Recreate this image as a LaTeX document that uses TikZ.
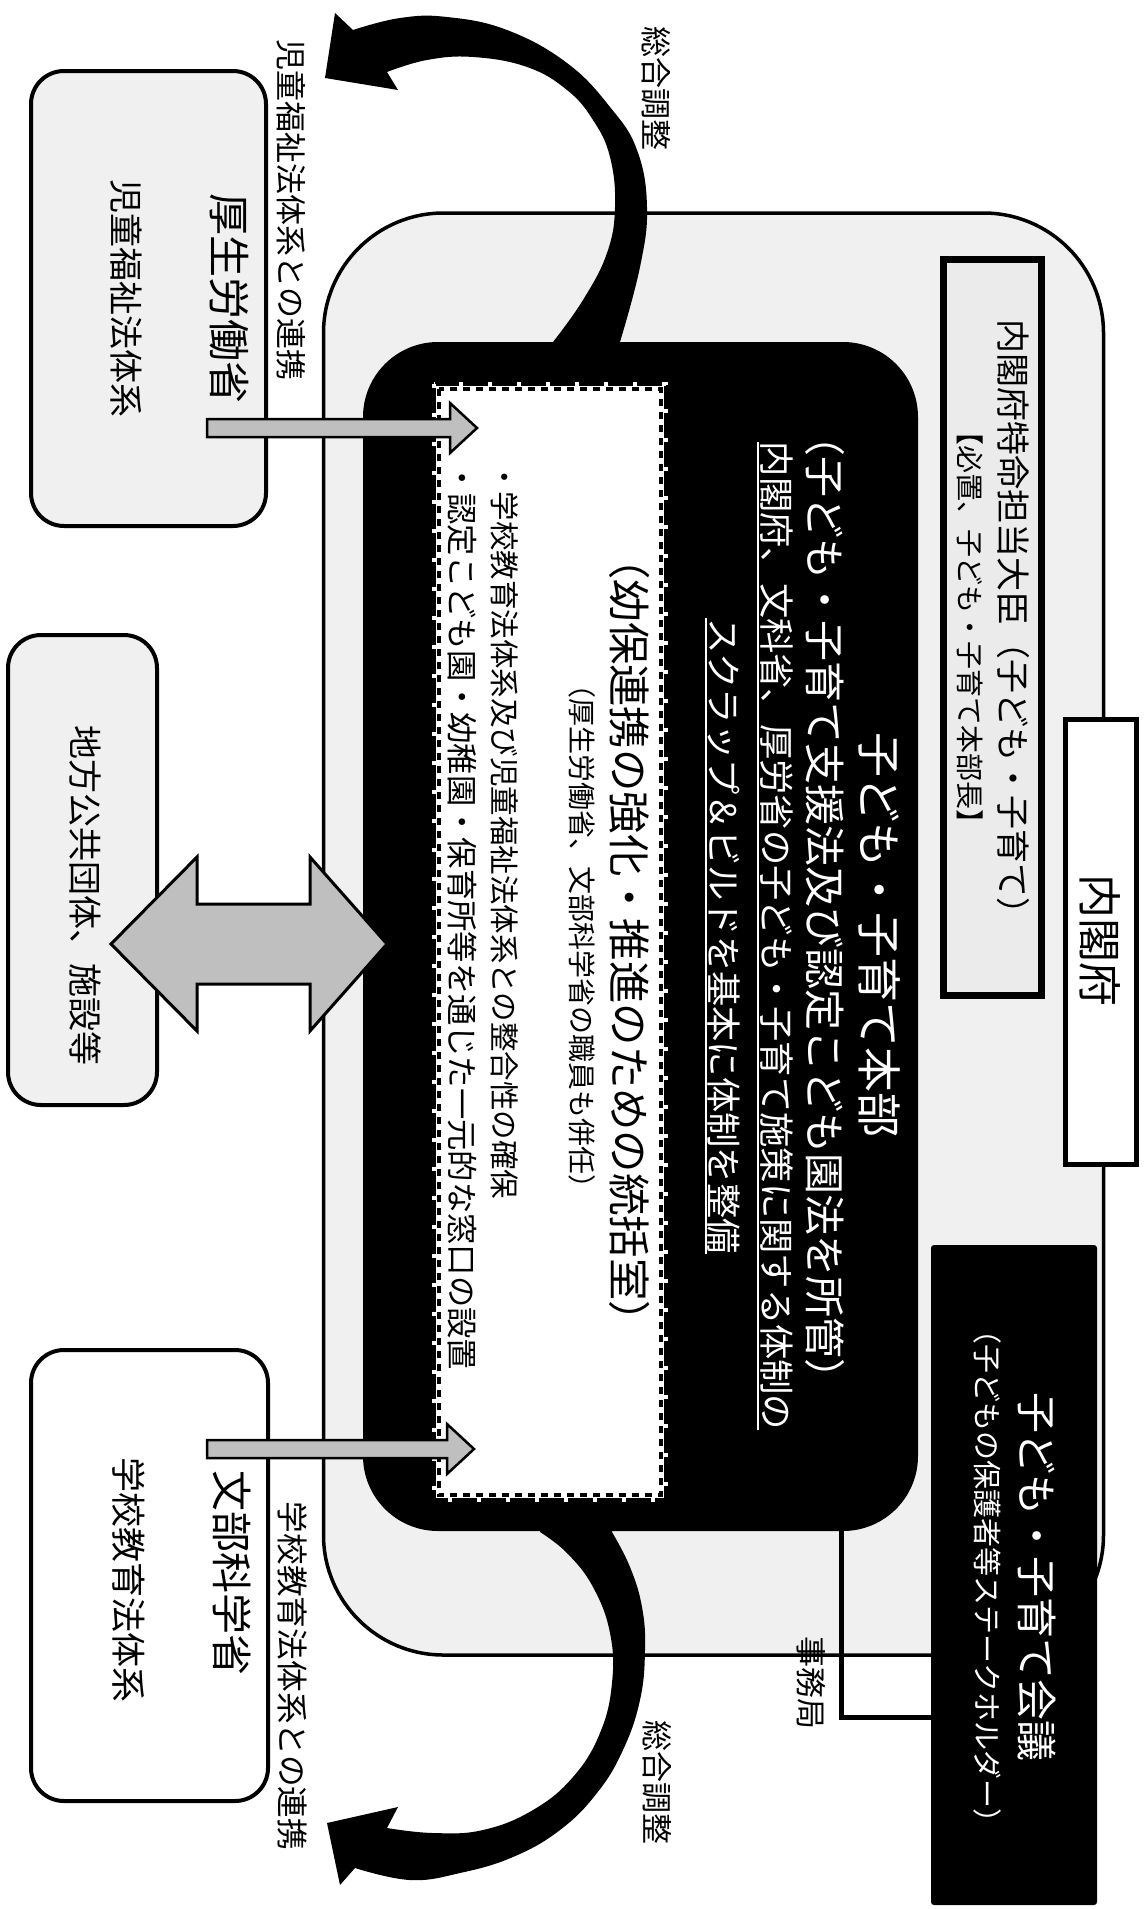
\documentclass[tikz,border=0pt]{standalone}
\usepackage{fontspec}
\newfontfamily\cjk{Noto Sans CJK JP}
\usetikzlibrary{calc}
\newcommand\myfs[1]{\fontsize{#1}{#1}\selectfont}
\begin{document}
\begin{tikzpicture}[x=1pt,y=-1pt,
  tx/.style={rotate=-90, inner sep=0pt, font=\cjk\myfs{#1}},
  mbox/.style={draw, line width=4pt, rounded corners=33pt, inner sep=0pt},
  stip/.style={fill=black!6},
  grayarr/.style={draw, line width=2.5pt, fill=black!25, line join=miter},
  curvearr/.style={fill=black}]
\fill[white] (0,0) rectangle (1147,1909);
\useasboundingbox (0,0) rectangle (1147,1909);

% outer Cabinet Office frame
\node[draw, line width=3.5pt, rounded corners=120pt, stip, minimum width=780pt, minimum height=1442pt, inner sep=0pt] (naikaku) at (713.5,934) {};
% black headquarters box
\node[fill=black, rounded corners=75pt, minimum width=555pt, minimum height=1189pt, inner sep=0pt] (honbu) at (640.5,936.5) {};
% white dashed box
\node[fill=white, minimum width=228pt, minimum height=1112pt, inner sep=0pt] (tokatsu) at (550,942) {};
\draw[line width=3.5pt, dash pattern=on 7pt off 6pt] ([shift={(3pt,-3pt)}]tokatsu.north west) rectangle ([shift={(-3pt,3pt)}]tokatsu.south east);
\draw[white, line width=4pt, dash pattern=on 4pt off 25pt] ([shift={(-2pt,2pt)}]tokatsu.north west) rectangle ([shift={(2pt,-2pt)}]tokatsu.south east);

% curved arrows (overall coordination)
\fill[curvearr] (620,350) -- plot[smooth, tension=0.7] coordinates {(620,342) (640,267) (647,207) (637,150) (610,107) (567,63) (507,30) (447,17) (400,18) (353,30)}
  -- (335,13) -- (325,78) -- (398,90) -- (387,72)
  -- plot[smooth, tension=0.7] coordinates {(387,72) (427,60) (473,57) (527,67) (567,90) (593,120) (610,157) (615,207) (607,253) (583,300) (553,342)} -- (553,350) -- cycle;
\fill[curvearr] (612,1520) -- plot[smooth, tension=0.7] coordinates {(612,1532) (630,1567) (642,1607) (645,1650) (640,1700) (623,1750) (597,1793) (560,1830) (513,1857) (460,1873) (410,1880) (355,1868)}
  -- (340,1885) -- (327,1823) -- (398,1807) -- (387,1828)
  -- plot[smooth, tension=0.7] coordinates {(387,1828) (433,1833) (483,1830) (533,1810) (573,1777) (600,1733) (612,1683) (610,1633) (593,1587) (567,1553) (540,1532)} -- (540,1520) -- cycle;

% ministry boxes
\node[mbox, stip, minimum width=235pt, minimum height=455pt] (mhlw) at (148.5,298.5) {};
\node[mbox, stip, minimum width=149pt, minimum height=470pt] (local) at (82.5,870) {};
\node[mbox, fill=white, minimum width=237pt, minimum height=451pt] (mext) at (149.5,1575.5) {};

% gray arrows
\coordinate (gaS1) at (207,428); \coordinate (gaT1) at (477,428);
\coordinate (gaS2) at (207,1449); \coordinate (gaT2) at (474,1449);
\path[grayarr] let \p1=(gaS1), \p2=(gaT1) in (\x1,\y1+9pt) -- (\x2-27pt,\y1+9pt) -- (\x2-27pt,\y1+25pt) -- (\x2,\y1) -- (\x2-27pt,\y1-25pt) -- (\x2-27pt,\y1-9pt) -- (\x1,\y1-9pt) -- cycle;
\path[grayarr] let \p1=(gaS2), \p2=(gaT2) in (\x1,\y1+9pt) -- (\x2-27pt,\y1+9pt) -- (\x2-27pt,\y1+25pt) -- (\x2,\y1) -- (\x2-27pt,\y1-25pt) -- (\x2-27pt,\y1-9pt) -- (\x1,\y1-9pt) -- cycle;

% double arrow
\coordinate (daL) at (111,944); \coordinate (daR) at (387,944);
\path[grayarr, line width=3pt] let \p1=(daL), \p2=(daR) in (\x1,\y1) -- (\x1+86pt,\y1+87pt) -- (\x1+86pt,\y1+40pt) -- (\x2-77pt,\y1+40pt) -- (\x2-77pt,\y1+87pt) -- (\x2,\y1) -- (\x2-77pt,\y1-87pt) -- (\x2-77pt,\y1-40pt) -- (\x1+86pt,\y1-40pt) -- (\x1+86pt,\y1-87pt) -- cycle;

% council box and secretariat connector
\node[fill=black, rounded corners=3pt, minimum width=166pt, minimum height=660pt, inner sep=0pt] (kaigi) at (1014,1575) {};
\coordinate (jm) at (841,1525);
\draw[line width=5pt] (jm) |- (kaigi.west |- 0,1717);

% minister box
\node[draw, line width=7pt, fill=black!8, minimum width=98pt, minimum height=736pt, inner sep=0pt] (daijin) at (992.5,627.5) {};
% Cabinet Office label
\node[draw, line width=5pt, fill=white, minimum width=71pt, minimum height=445pt, inner sep=0pt] (naikakuL) at (1101,942) {};

% texts
\node[tx=31] (t1) at (291,210) {児童福祉法体系との連携};
\node[tx=31] (t2) at (656,88) {総合調整};
\node[tx=42] (t3) at (229,298) {厚生労働省};
\node[tx=34] (t4) at (126,298) {児童福祉法体系};
\node[tx=34] (t5) at (1013,625) {内閣府特命担当大臣（子ども・子育て）};
\node[tx=28] (t6) at (970,627) {【必置、子ども・子育て本部長】};
\node[tx=44] (t7) at (1100,940) {内閣府};
\node[tx=45, text=white] (t8) at (880,935) {子ども・子育て本部};
\node[tx=41, text=white] (t9) at (825,907) {（子ども・子育て支援法及び認定こども園法を所管）};
\node[tx=35.3, text=white] (ul1) at (777,936) {内閣府、文科省、厚労省の子ども・子育て施策に関する体制の};
\node[tx=35.3, text=white] (ul2) at (724,936) {スクラップ＆ビルドを基本に体制を整備};
\draw[white, line width=2pt] ([xshift=-2pt]ul1.south west) -- ([xshift=-2pt]ul1.south east);
\draw[white, line width=2pt] ([xshift=-2pt]ul2.south west) -- ([xshift=-2pt]ul2.south east);
\node[tx=42.4] (t10) at (630,940) {（幼保連携の強化・推進のための統括室）};
\node[tx=28] (t11) at (582,936) {（厚生労働省、文部科学省の職員も併任）};
\node[tx=29.5, anchor=west] (t12) at (505,462) {・学校教育法体系及び児童福祉法体系との整合性の確保};
\node[tx=31.3, anchor=west] (t13) at (462,462) {・認定こども園・幼稚園・保育所等を通じた一元的な窓口の設置};
\node[tx=34] (t14) at (85,895) {地方公共団体、施設等};
\node[tx=41] (t15) at (232,1573) {文部科学省};
\node[tx=35] (t16) at (129,1580) {学校教育法体系};
\node[tx=31.7] (t17) at (293,1676) {学校教育法体系との連携};
\node[tx=31] (t18) at (657,1782) {総合調整};
\node[tx=31] (t19) at (811,1683) {事務局};
\node[tx=41, text=white] (t20) at (1037,1577) {子ども・子育て会議};
\node[tx=29, text=white] (t21) at (988,1576) {（子どもの保護者等ステークホルダー）};
\end{tikzpicture}
\end{document}
